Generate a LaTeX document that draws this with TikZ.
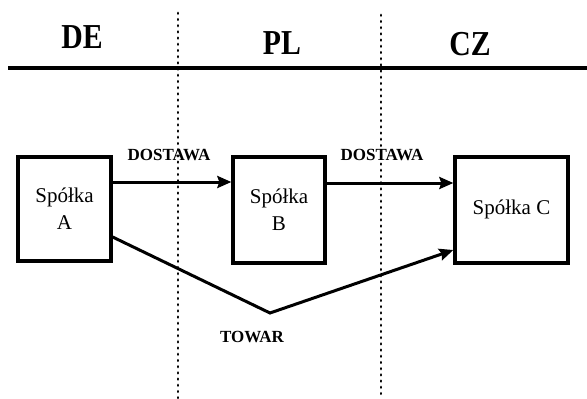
\documentclass[tikz,border=0pt]{standalone}
\usepackage{fontspec}
\setmainfont{Liberation Serif}
\newfontfamily\headfont[FakeStretch=0.85]{Liberation Serif}
\usetikzlibrary{arrows.meta,calc}
\tikzset{
  box/.style={draw, line width=3.3pt, inner sep=0pt, align=center, font=\fontsize{21}{27}\selectfont},
  head/.style={font=\headfont\bfseries\fontsize{35}{35}\selectfont, inner sep=0pt},
  lab/.style={font=\bfseries\fontsize{17}{17}\selectfont, inner sep=0pt},
  arr/.style={line width=3pt, -{Stealth[length=14pt,width=12pt,inset=2pt]}},
  border/.style={line width=2.8pt, line cap=round, dash pattern=on 0.6pt off 5.6pt},
}
\begin{document}
\begin{tikzpicture}[x=1pt,y=-1pt]
\useasboundingbox (0,0) rectangle (587,399);
% headings
\node[head] (de) at (82,37) {DE};
\node[head] (pl) at (282,43) {PL};
\node[head] (cz) at (470,44) {CZ};
% horizontal rule
\coordinate (hl) at (8,68);
\coordinate (hr) at (587,68);
\draw[line width=4.5pt] (hl) -- (hr);
% borders
\coordinate (b1t) at (178,13);
\coordinate (b1b) at (178,399);
\coordinate (b2t) at (381,15);
\coordinate (b2b) at (381,399);
\draw[border] (b1t) -- (b1b);
\draw[border] (b2t) -- (b2b);
% boxes
\node[box, minimum width=93pt, minimum height=104pt] (A) at (64.5,209) {Spółka\\A};
\node[box, minimum width=92pt, minimum height=106pt] (B) at (279,210) {Spółka\\B};
\node[box, minimum width=113pt, minimum height=106pt] (C) at (511.5,210) {\raisebox{5pt}{Spółka C}};
% arrows
\draw[arr] ([yshift=27pt]A.east) -- ([yshift=27pt]A.east -| B.west);
\draw[arr] ([yshift=27pt]B.east) -- ([yshift=27pt]B.east -| C.west);
\coordinate (V) at (270,313);
\draw[arr, line join=miter] ([yshift=-28pt]A.east) -- (V) -- ([yshift=-40pt]C.west);
% labels
\node[lab] (d1) at (169,155) {DOSTAWA};
\node[lab] (d2) at (382,155) {DOSTAWA};
\node[lab] (tw) at (252,337) {TOWAR};
\end{tikzpicture}
\end{document}
